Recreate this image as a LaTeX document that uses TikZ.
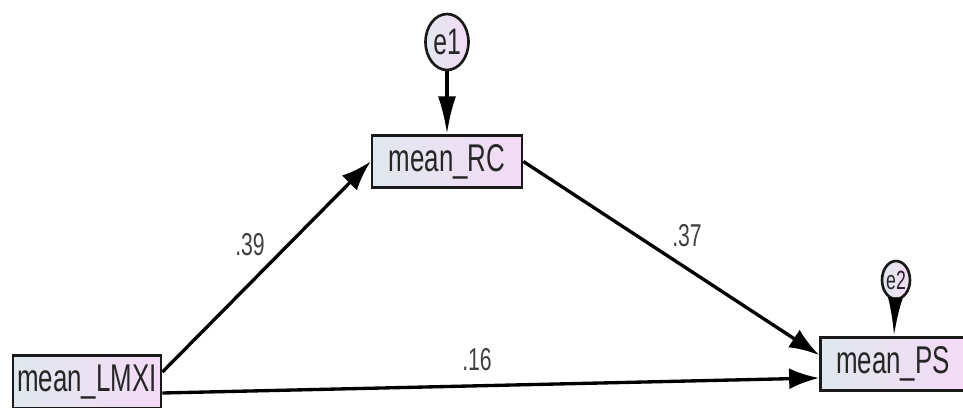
\documentclass[tikz,border=0pt]{standalone}
\usepackage{graphicx}
\usepackage{fontspec}
\setmainfont{Liberation Sans}
\usepackage[svgnames]{xcolor}
\usetikzlibrary{arrows.meta, shapes.geometric}

\definecolor{boxleft}{RGB}{224,232,238}
\definecolor{boxright}{RGB}{244,218,246}
\newcommand{\squash}[1]{\scalebox{0.67}[1]{#1}}

\begin{document}
\begin{tikzpicture}[x=0.02cm,y=-0.02cm]
\useasboundingbox (0,0) rectangle (963,407);
\tikzset{
  observed/.style={draw=black!90, line width=1.6pt, left color=boxleft, right color=boxright,
    minimum height=1.05cm, inner sep=0pt, font=\fontsize{22}{24}\selectfont, text=black!85},
  latent/.style={ellipse, draw=black!90, line width=1.5pt, left color=boxleft, right color=boxright,
    inner sep=0pt, text=black!85},
  path arrow/.style={draw, line width=1.9pt, -{Latex[length=6mm,width=4.2mm]}},
  coef/.style={font=\fontsize{18}{20}\selectfont, text=black!75},
}
\node[observed, minimum width=2.96cm] (lmxi) at (87,382) {\squash{mean\_LMXI}};
\node[observed, minimum width=3cm] (rc) at (447,161.5) {\squash{mean\_RC}};
\node[observed, minimum width=2.9cm] (ps) at (893,364) {\squash{mean\_PS}};
\node[latent, minimum width=0.86cm, minimum height=1.12cm, font=\fontsize{21}{24}\selectfont] (e1) at (447,42) {\squash{e1}};
\node[latent, minimum width=0.56cm, minimum height=0.76cm, font=\fontsize{15}{16}\selectfont] (e2) at (896,280) {\squash{e2}};

\path[path arrow, -{Latex[length=7.5mm,width=3.6mm]}] (e1) -- (rc);
\path[path arrow, -{Latex[length=7.8mm,width=3mm]}] (e2) -- (ps);
\path[path arrow] ([yshift=0.2cm]lmxi.east) -- (rc.west);
\path[path arrow] ([yshift=-0.22cm]lmxi.east) -- ([yshift=-0.28cm]ps.west);
\path[path arrow] (rc.east) -- ([yshift=0.18cm]ps.west);

\node[coef] (c39) at (250,245) {\squash{.39}};
\node[coef] (c37) at (687,236) {\squash{.37}};
\node[coef] (c16) at (477,360) {\squash{.16}};
\end{tikzpicture}
\end{document}
